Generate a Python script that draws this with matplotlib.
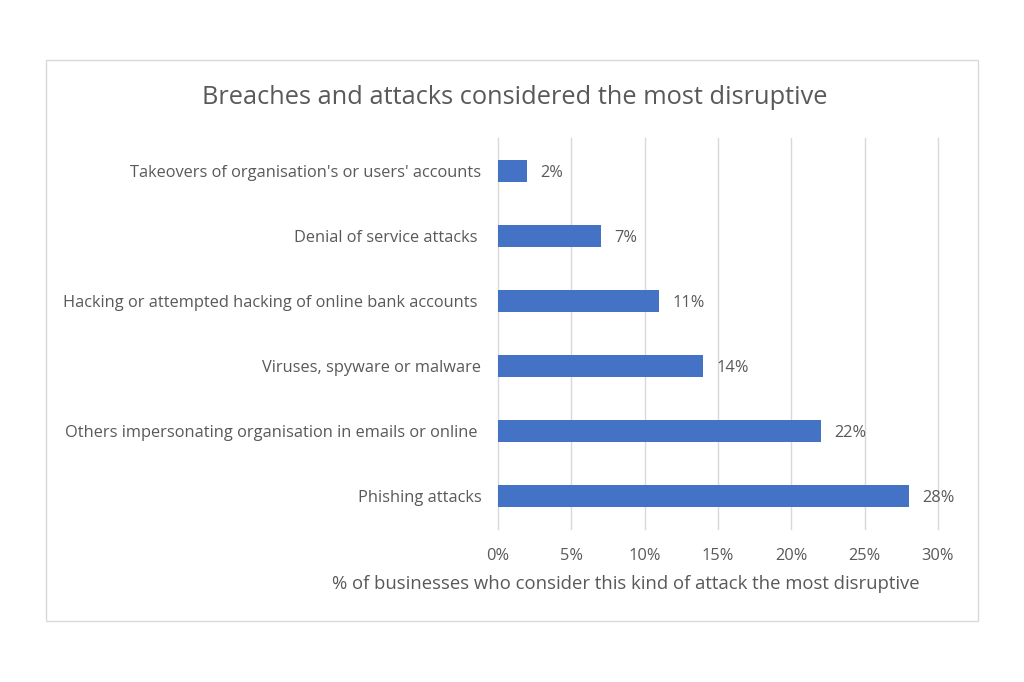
import matplotlib.pyplot as plt
from matplotlib.patches import Rectangle
from matplotlib.ticker import FuncFormatter

# dati (dal basso verso l'alto)
categorie = [
    "Phishing attacks",
    "Others impersonating organisation in emails or online ",
    "Viruses, spyware or malware",
    "Hacking or attempted hacking of online bank accounts ",
    "Denial of service attacks ",
    "Takeovers of organisation's or users' accounts",
]
valori = [28, 22, 14, 11, 7, 2]
tick_x = [0, 5, 10, 15, 20, 25, 30]

GRIGIO = "#595959"
BLU = "#4472C4"

plt.rcParams['font.family'] = ['Open Sans', 'DejaVu Sans']

fig = plt.figure(figsize=(10.24, 6.82), dpi=100)
fig.patch.set_facecolor('white')

# cornice del grafico
fig.patches.append(Rectangle((0.0449, 0.0894), 0.9101, 0.8226, transform=fig.transFigure,
                             fill=False, edgecolor='#D9D9D9', linewidth=1))

ax = fig.add_axes([0.4863, 0.225, 0.4297, 0.572])
y = range(len(categorie))
bars = ax.barh(y, valori, height=0.34, color=BLU, zorder=3)

ax.set_xlim(0, 30)
ax.set_ylim(-0.5, len(categorie) - 0.5)
ax.set_xticks(tick_x)
ax.xaxis.set_major_formatter(FuncFormatter(lambda v, p: f"{int(v)}%"))
ax.set_yticks(list(y))
ax.set_yticklabels(categorie)
ax.tick_params(axis='both', length=0, colors=GRIGIO, labelsize=11.8)
ax.tick_params(axis='x', pad=14)
ax.tick_params(axis='y', pad=12)
ax.grid(axis='x', color='#D9D9D9', linewidth=1, zorder=0)
for gl in ax.get_xgridlines():
    gl.set_clip_on(False)
for s in ax.spines.values():
    s.set_visible(False)

# etichette sulle barre
for b, v in zip(bars, valori):
    ax.text(b.get_width() + 0.9, b.get_y() + b.get_height() / 2, f"{v}%",
            va='center_baseline', ha='left', fontsize=11.8, color=GRIGIO)

fig.text(0.611, 0.144, "% of businesses who consider this kind of attack the most disruptive",
         ha='center', va='center', fontsize=13.3, color=GRIGIO)

fig.text(0.503, 0.857, "Breaches and attacks considered the most disruptive",
         ha='center', va='center', fontsize=18.3, color=GRIGIO)

plt.savefig('out.png', dpi=100)
